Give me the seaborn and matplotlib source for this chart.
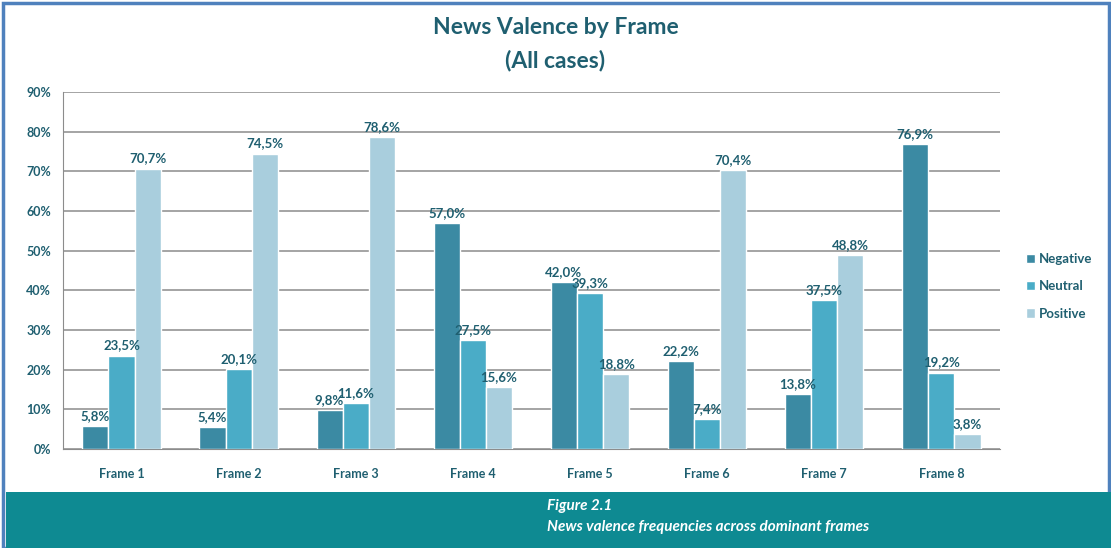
import numpy as np
import pandas as pd
import matplotlib.pyplot as plt
import seaborn as sns
from matplotlib.patches import Rectangle

frames = ["Frame 1", "Frame 2", "Frame 3", "Frame 4", "Frame 5", "Frame 6", "Frame 7", "Frame 8"]
valences = ["Negative", "Neutral", "Positive"]
negative = [5.8, 5.4, 9.8, 57.0, 42.0, 22.2, 13.8, 76.9]
neutral = [23.5, 20.1, 11.6, 27.5, 39.3, 7.4, 37.5, 19.2]
positive = [70.7, 74.5, 78.6, 15.6, 18.8, 70.4, 48.8, 3.8]

colors = ["#3b8aa3", "#4aacc7", "#a9cedd"]
text_col = "#1f5f70"

df = pd.DataFrame({"frame": frames * 3,
                   "valence": np.repeat(valences, len(frames)),
                   "value": negative + neutral + positive})

sns.set_style("white")
plt.rcParams["font.family"] = ["Lato", "DejaVu Sans"]

fig = plt.figure(figsize=(11.11, 5.48), dpi=100)

# outer border and caption band
fig.patches.append(Rectangle((0.003, 0.0), 0.995, 0.994, transform=fig.transFigure,
                             fill=False, edgecolor="#4f81bd", lw=2.5))
fig.patches.append(Rectangle((0.005, 0.0), 0.995, 0.102, transform=fig.transFigure,
                             facecolor="#0e8a92", edgecolor="none"))

ax = fig.add_axes([0.0567, 0.181, 0.8433, 0.651])
sns.barplot(data=df, x="frame", y="value", hue="valence", hue_order=valences,
            palette=colors, width=0.67, saturation=1, ax=ax, zorder=3)

ax.set_ylim(0, 90)
ax.set_xlim(-0.5, len(frames) - 0.5)
ax.set_yticks(range(0, 91, 10))
ax.set_yticklabels([f"{v}%" for v in range(0, 91, 10)])
ax.yaxis.grid(True, color="#8c8c8c", lw=1.1, zorder=0)
ax.set_axisbelow(True)
for s in ["top", "right"]:
    ax.spines[s].set_visible(False)
ax.spines["left"].set_color("#8c8c8c")
ax.spines["bottom"].set_color("#8c8c8c")
ax.set_xlabel("")
ax.set_ylabel("")

# category ticks at group boundaries
ax.set_xticks(np.arange(len(frames)))
ax.set_xticklabels(frames)
ax.tick_params(axis="x", length=0, pad=14, labelsize=9, labelcolor=text_col)
ax.set_xticks(np.arange(-0.5, len(frames), 1), minor=True)
ax.tick_params(axis="x", which="minor", length=5, color="#8c8c8c", direction="out")
ax.tick_params(axis="y", length=5, color="#8c8c8c", direction="out", labelsize=9,
               labelcolor=text_col)
for lab in ax.get_xticklabels() + ax.get_yticklabels():
    lab.set_fontweight("bold")

for cont in ax.containers:
    ax.bar_label(cont, labels=[f"{v:.1f}%".replace(".", ",") for v in cont.datavalues],
                 padding=3, fontsize=9.5, fontweight="bold", color=text_col)

leg = ax.legend(loc="center left", bbox_to_anchor=(1.015, 0.455), frameon=False,
                handlelength=0.7, handleheight=0.7, handletextpad=0.3, labelspacing=1.15,
                fontsize=9.5)
for t in leg.get_texts():
    t.set_color(text_col)
    t.set_fontweight("bold")

fig.text(0.5, 0.949, "News Valence by Frame", ha="center", va="center", fontsize=16.5,
         fontweight="bold", color=text_col)
fig.text(0.5, 0.890, "(All cases)", ha="center", va="center", fontsize=16.5,
         fontweight="bold", color=text_col)

fig.text(0.492, 0.076, "Figure 2.1", ha="left", va="center", fontsize=11,
         fontweight="bold", style="italic", color="white")
fig.text(0.492, 0.039, "News valence frequencies across dominant frames", ha="left",
         va="center", fontsize=11, fontweight="bold", style="italic", color="white")

fig.savefig("out.png", dpi=100)
